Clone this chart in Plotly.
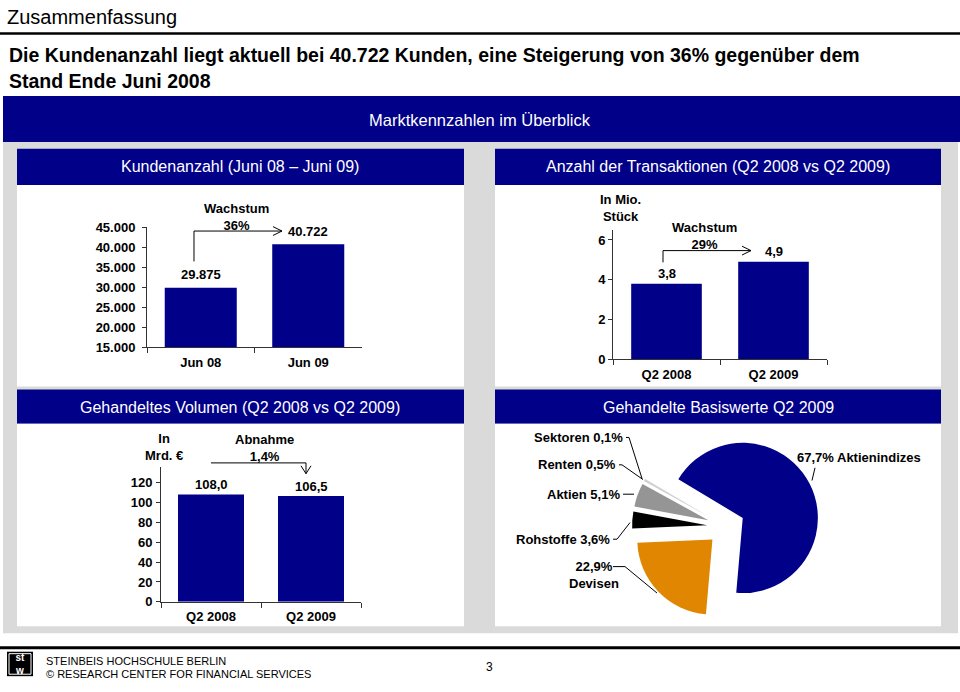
import plotly.graph_objects as go

# ---------------- data ----------------
kunden_cats = ["Jun 08", "Jun 09"]
kunden_vals = [29875, 40722]
kunden_ticks = [15000, 20000, 25000, 30000, 35000, 40000, 45000]
kunden_growth = "36%"

trans_cats = ["Q2 2008", "Q2 2009"]
trans_vals = [3.8, 4.9]
trans_ticks = [0, 2, 4, 6]
trans_growth = "29%"

vol_cats = ["Q2 2008", "Q2 2009"]
vol_vals = [108.0, 106.5]
vol_ticks = [0, 20, 40, 60, 80, 100, 120]
vol_change = "1,4%"

pie_labels = ["Aktienindizes", "Devisen", "Rohstoffe", "Aktien", "Renten", "Sektoren"]
pie_vals = [67.7, 22.9, 3.6, 5.1, 0.5, 0.1]
pie_colors = ["#000088", "#E08600", "#000000", "#959595", "#CFCFCF", "#F2F2F2"]

# ---------------- helpers ----------------
W, H = 960, 692
NAVY = "#000088"
GREY = "#DADADA"
FONT = "Liberation Sans, Arial, sans-serif"


def X(p):
    return p / W


def Y(p):
    return 1 - p / H


def de_int(v):
    return f"{v:,.0f}".replace(",", ".")


def de_dec(v):
    return f"{v:.1f}".replace(".", ",")


shapes = []
annotations = []


def rect(x0, y0, x1, y1, color):
    shapes.append(dict(type="rect", xref="paper", yref="paper", x0=X(x0), x1=X(x1),
                       y0=Y(y1), y1=Y(y0), fillcolor=color, line=dict(width=0), layer="below"))


def path(points, width=1, color="#000"):
    d = "M " + " L ".join(f"{X(a):.5f},{Y(b):.5f}" for a, b in points)
    shapes.append(dict(type="path", xref="paper", yref="paper", path=d,
                       line=dict(color=color, width=width), layer="above"))


def text(x, y, t, size=13, bold=True, color="#000", xanchor="center", align="center",
         yanchor="middle"):
    annotations.append(dict(x=X(x), y=Y(y), xref="paper", yref="paper", text=t, showarrow=False,
                            xanchor=xanchor, yanchor=yanchor, align=align,
                            font=dict(family=FONT, size=size, color=color,
                                      weight="bold" if bold else "normal")))


# ---------------- background / frame ----------------
path([(0, 27), (960, 27)], width=2.5)
text(5, 10, "Zusammenfassung", size=20, bold=False, xanchor="left")
text(7, 62.5, "Die Kundenanzahl liegt aktuell bei 40.722 Kunden, eine Steigerung von 36% gegenüber dem",
     size=19.5, xanchor="left", align="left", yanchor="bottom")
text(7, 62.5, "Stand Ende Juni 2008", size=19.5, xanchor="left", align="left", yanchor="top")

rect(3, 91, 960, 138, NAVY)
text(480, 115, "Marktkennzahlen im Überblick", size=16.5, bold=False, color="white")
rect(3, 138, 958, 640, GREY)

for (x0, x1) in [(17, 464), (495, 941)]:
    rect(x0, 145, x1, 182, NAVY)
    rect(x0, 182, x1, 388, "white")
    rect(x0, 391, x1, 426, NAVY)
    rect(x0, 426, x1, 633, "white")

text(240, 163, "Kundenanzahl (Juni 08 – Juni 09)", size=16, bold=False, color="white")
text(718, 163, "Anzahl der Transaktionen (Q2 2008 vs Q2 2009)", size=16, bold=False, color="white")
text(240, 409, "Gehandeltes Volumen (Q2 2008 vs Q2 2009)", size=16, bold=False, color="white")
text(718, 409, "Gehandelte Basiswerte Q2 2009", size=16, bold=False, color="white")

# footer
path([(0, 655), (960, 655)], width=3)
rect(7, 659, 33, 684, "#000000")
shapes.append(dict(type="rect", xref="paper", yref="paper", x0=X(9), x1=X(31), y0=Y(682), y1=Y(661),
                   line=dict(color="white", width=1), layer="above"))
text(20, 671.5, "st<br>w", size=10, color="white")
text(44, 669, "STEINBEIS HOCHSCHULE BERLIN", size=11, bold=False, xanchor="left")
text(44, 682, "© RESEARCH CENTER FOR FINANCIAL SERVICES", size=11, bold=False, xanchor="left")
text(490, 675, "3", size=12, bold=False)

fig = go.Figure()

# ---------------- bar charts ----------------
AX = dict(showline=True, linecolor="#333", linewidth=1, ticks="outside", tickcolor="#333",
          showgrid=False, zeroline=False, fixedrange=True,
          tickfont=dict(family=FONT, size=13, color="#000", weight="bold"))

specs = [
    # cats, vals, ticks, fmt, xdom, ydom(px top,bottom), range, width, axis suffix, yshift, ystandoff
    (kunden_cats, kunden_vals, kunden_ticks, de_int, (147, 362), (225, 348), [15000, 45000], 0.67, "", 13, 4),
    (trans_cats, trans_vals, trans_ticks, de_dec, (613, 827), (228, 360), [0, 6.5], 0.66, "2", 10, 0),
    (vol_cats, vol_vals, vol_ticks, de_dec, (161, 361), (470, 608), [0, 136], 0.66, "3", 10, 1),
]
tick_fmt = [de_int, lambda v: str(v), lambda v: str(v)]
layout_axes = {}
for i, (cats, vals, ticks, fmt, xd, yd, rng, bw, sfx, ysh, ysto) in enumerate(specs):
    fig.add_trace(go.Bar(x=cats, y=vals, width=bw, marker=dict(color=NAVY, line=dict(width=0)),
                         xaxis="x" + sfx, yaxis="y" + sfx, hoverinfo="skip", showlegend=False,
                         cliponaxis=False))
    layout_axes["xaxis" + sfx] = dict(AX, domain=[X(xd[0]), X(xd[1])], anchor="y" + sfx,
                                      type="category", range=[-0.5, 1.5], tickson="boundaries",
                                      ticklen=5, ticklabelstandoff=3)
    layout_axes["yaxis" + sfx] = dict(AX, domain=[Y(yd[1]), Y(yd[0])], anchor="x" + sfx,
                                      range=rng, tickvals=ticks, ticklabelstandoff=ysto,
                                      ticktext=[tick_fmt[i](t) for t in ticks], ticklen=4)
    for c, v in zip(cats, vals):
        annotations.append(dict(x=c, y=v, xref="x" + sfx, yref="y" + sfx, text=fmt(v),
                                showarrow=False, yanchor="middle", yshift=ysh,
                                font=dict(family=FONT, size=13, color="#000", weight="bold")))

# annotations / arrows for bar charts
text(236, 215, "Wachstum<br>" + kunden_growth, size=13)
path([(194, 260), (194, 229), (282, 229)])
path([(273, 224.5), (282, 229), (273, 233.5)])

text(620, 205, "In Mio.<br>Stück", size=13)
text(704, 234.5, "Wachstum<br>" + trans_growth, size=13)
path([(663, 261), (663, 249), (751, 249)])
path([(742, 244.5), (751, 249), (742, 253.5)])

text(164, 449.5, "In<br>Mrd. €", size=13)
text(264, 451, "Abnahme<br>" + vol_change, size=13)
path([(211, 466), (306, 466), (306, 477)])
path([(301, 469), (306, 477), (311, 469)])

# ---------------- pie ----------------
cx, cy, half = 726, 531, 96
fig.add_trace(go.Pie(labels=pie_labels, values=pie_vals, sort=False, direction="clockwise",
                     rotation=-59, pull=0.25, marker=dict(colors=pie_colors, line=dict(width=0)),
                     textinfo="none", hoverinfo="label+percent", showlegend=False,
                     domain=dict(x=[X(cx - half), X(cx + half)], y=[Y(cy + half), Y(cy - half)])))

pl = dict(zip(pie_labels, pie_vals))
text(625, 440, f"Sektoren {de_dec(pl['Sektoren'])}%", xanchor="right")
path([(626, 440), (629, 440), (642, 482)])
text(618, 468, f"Renten {de_dec(pl['Renten'])}%", xanchor="right")
path([(619, 468), (622, 468), (643, 483)])
text(622, 498, f"Aktien {de_dec(pl['Aktien'])}%", xanchor="right")
path([(623, 498), (634, 498)])
text(612, 544, f"Rohstoffe {de_dec(pl['Rohstoffe'])}%", xanchor="right")
path([(613, 544), (617, 544), (630, 527)])
text(594, 580.5, f"{de_dec(pl['Devisen'])}%<br>Devisen")
path([(613, 572), (625, 572), (657, 599)])
text(795, 460, f"{de_dec(pl['Aktienindizes'])}% Aktienindizes", xanchor="left")
path([(815, 471), (812, 484)])

fig.update_layout(width=W, height=H, margin=dict(l=0, r=0, t=0, b=0),
                  paper_bgcolor="white", plot_bgcolor="rgba(0,0,0,0)",
                  font=dict(family=FONT), bargap=0.3, shapes=shapes, annotations=annotations,
                  **layout_axes)

# place the 960x692 figure flush with the window (no default body margin)
post = ("var h=document.documentElement,b=document.body;"
        "[h,b].forEach(function(e){e.style.margin='0';e.style.padding='0';"
        "e.style.overflow='hidden';e.style.width='960px';e.style.height='692px';});"
        "var d=document.getElementById('{plot_id}');"
        "d.style.position='fixed';d.style.left='0px';d.style.top='0px';")
fig.write_html("out.html", config=dict(displayModeBar=False), post_script=post)
